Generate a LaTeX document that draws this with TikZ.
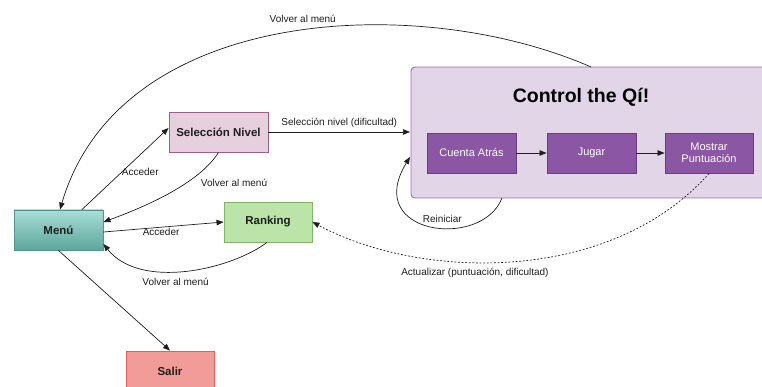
\documentclass[tikz,border=0pt]{standalone}
\usepackage{fontspec}
\setmainfont{Liberation Sans}
\usetikzlibrary{arrows.meta,shadings}

\definecolor{menuTop}{HTML}{A8DED5}
\definecolor{menuBot}{HTML}{5DA69C}
\definecolor{menuLine}{HTML}{4F978D}
\definecolor{selFill}{HTML}{E6D0DE}
\definecolor{selLine}{HTML}{996185}
\definecolor{rankFill}{HTML}{BCE3A8}
\definecolor{rankLine}{HTML}{82B366}
\definecolor{exitFill}{HTML}{F19C99}
\definecolor{exitLine}{HTML}{E5605A}
\definecolor{ctrlFill}{HTML}{E1D5E7}
\definecolor{ctrlLine}{HTML}{9673A6}
\definecolor{stepFill}{HTML}{8B56A4}
\definecolor{stepLine}{HTML}{6A3D80}
\definecolor{ink}{HTML}{1E1E1E}

\tikzset{
  box/.style={draw, line width=0.9pt, minimum width=89pt, minimum height=40pt,
              inner sep=0pt, font=\fontsize{11.5}{13}\selectfont\bfseries, text=ink},
  stepbox/.style={draw=stepLine, fill=stepFill, line width=0.9pt, minimum width=89pt,
              minimum height=40pt, inner sep=0pt, align=center, text=white,
              font=\fontsize{11}{12.5}\selectfont},
  conn/.style={draw=ink, line width=0.7pt, -{Triangle[length=7pt,width=5.5pt]}},
  dotted link/.style={conn, dash pattern=on 1.8pt off 1.8pt},
  lbl/.style={font=\fontsize{10}{11}\selectfont, text=ink, inner sep=1pt},
}

\begin{document}
\begin{tikzpicture}[x=1pt,y=-1pt]
  \useasboundingbox (0,0) rectangle (762,387);

  % main game block
  \draw[draw=ctrlLine, fill=ctrlFill, line width=0.9pt, rounded corners=4pt]
    (411,67) rectangle (790,198);
  \node (title) at (581,97) {\fontsize{19.5}{22}\selectfont\bfseries Control the Qí!};
  \node[stepbox] (count) at (471.5,153) {Cuenta Atrás};
  \node[stepbox] (play)  at (591.5,153) {Jugar};
  \node[stepbox, minimum width=88pt] (score) at (709,153) {Mostrar\\Puntuación};
  \coordinate (ctrlTop)   at (591,67);
  \coordinate (ctrlIn)    at (410,132);
  \coordinate (ctrlLeft)  at (410,157);
  \coordinate (ctrlBot)   at (502,198);

  % menu screens
  \node[box, draw=menuLine, top color=menuTop, bottom color=menuBot] (menu) at (58.5,230) {Menú};
  \node[box, draw=selLine, fill=selFill, minimum width=99pt] (sel) at (218.5,132) {Selección Nivel};
  \node[box, draw=rankLine, fill=rankFill, minimum width=88pt] (rank) at (268,222) {Ranking};
  \node[box, draw=exitLine, fill=exitFill, minimum width=88pt] (exit) at (170,371) {Salir};

  % transitions
  \path[conn] (count) -- (play);
  \path[conn] (play) -- (score);

  \path[conn] ([xshift=23.5pt]menu.north) -- node[lbl, pos=0.5, xshift=15pt, yshift=-3pt] {Acceder} ([yshift=4pt]sel.west);
  \path[conn] (sel.south) .. controls (200,182) and (150,205) .. ([yshift=8pt]menu.east)
    node[lbl, pos=0.1, xshift=22pt, yshift=-22pt] {Volver al menú};

  \path[conn] ([yshift=-2pt]menu.east) -- node[lbl, pos=0.48, below] {Acceder} (rank.west);
  \path[conn] ([xshift=-1pt]rank.south) .. controls (230,270) and (140,290) .. ([yshift=-14pt]menu.east)
    node[lbl, pos=0.55, yshift=-11pt] {Volver al menú};

  \path[conn] (menu.south) -- (exit.north);

  \path[conn] (sel.east) -- node[lbl, above, pos=0.5, yshift=3pt] {Selección nivel (dificultad)} (ctrlIn);

  \path[conn] (ctrlTop) .. controls (420,-8) and (120,5) .. ([xshift=1.5pt]menu.north)
    node[lbl, pos=0.47, yshift=11pt] {Volver al menú};

  \path[conn] (ctrlBot) .. controls (482,250) and (362,235) .. (ctrlLeft)
    node[lbl, pos=0.3, xshift=-22pt, yshift=8pt] {Reiniciar};

  \path[dotted link] (score.south) .. controls (610,285) and (420,280) .. (rank.east)
    node[lbl, pos=0.5, yshift=-12pt, xshift=-39pt] {Actualizar (puntuación, dificultad)};
\end{tikzpicture}
\end{document}
